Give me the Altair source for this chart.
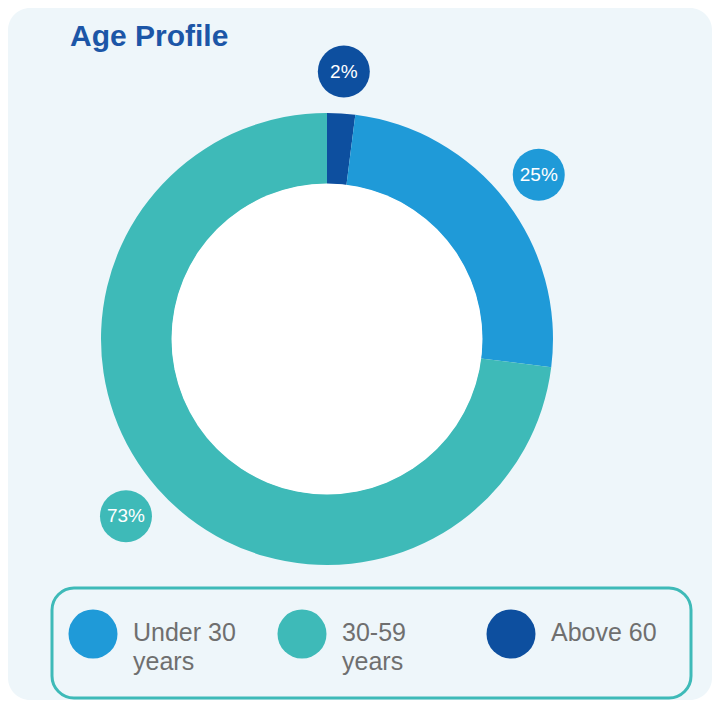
import altair as alt
import pandas as pd

# ---- data ----
categories = ["Above 60", "Under 30", "30-59"]
shares = [2, 25, 73]
slice_order = [0, 1, 2]
colors = ["#0d4f9f", "#1f9ad8", "#3ebab8"]

legend_categories = ["Under 30", "30-59", "Above 60"]
legend_labels = ["Under 30\nyears", "30-59\nyears", "Above 60"]
legend_order = [0, 1, 2]

title_text = "Age Profile"

# ---- layout ----
W, H = 704, 692
CX, CY = 319, 331
R_OUT, R_IN = 226, 155
R_LABEL = 268
PANEL = "#eef6fa"
FONT = "Liberation Sans"

df = pd.DataFrame({"category": categories, "share": shares, "order": slice_order})
leg = pd.DataFrame({"category": legend_categories, "label": legend_labels, "idx": legend_order})

color_scale = alt.Scale(domain=categories, range=colors)
color_enc = alt.Color("category:N", scale=color_scale, legend=None)

box = alt.Chart(pd.DataFrame({"b": [0]})).mark_rect(
    fill=PANEL, stroke="#3ebab8", strokeWidth=3, cornerRadius=22
).encode(x=alt.value(44), x2=alt.value(683), y=alt.value(580), y2=alt.value(690))

donut = alt.Chart(df).mark_arc(outerRadius=R_OUT, innerRadius=R_IN).encode(
    theta=alt.Theta("share:Q", stack=True),
    order=alt.Order("order:Q"),
    color=color_enc,
    x=alt.value(CX),
    y=alt.value(CY),
)

# Vega circle symbol: radius = sqrt(size) / 2
hole = alt.Chart(pd.DataFrame({"h": [0]})).mark_circle(
    size=(2 * R_IN + 1) ** 2, color="white", opacity=1
).encode(x=alt.value(CX), y=alt.value(CY))

bub_base = alt.Chart(df).transform_window(
    cum="sum(share)", sort=[alt.SortField("order")]
).transform_joinaggregate(total="sum(share)").transform_calculate(
    mid="(datum.cum - datum.share/2)/datum.total*2*PI"
).transform_calculate(
    bx=f"{CX} + {R_LABEL}*sin(datum.mid)",
    by=f"{CY} - {R_LABEL}*cos(datum.mid)",
    lbl="datum.share + '%'",
)
xs = alt.Scale(domain=[0, W], range=[0, W], nice=False, zero=False)
ys = alt.Scale(domain=[0, H], range=[0, H], nice=False, zero=False)
bx = alt.X("bx:Q", scale=xs, axis=None)
by = alt.Y("by:Q", scale=ys, axis=None)

bubbles = bub_base.mark_circle(size=52 ** 2, opacity=1).encode(x=bx, y=by, color=color_enc)
bubble_text = bub_base.mark_text(
    color="white", fontSize=19, font=FONT, baseline="middle", align="center"
).encode(x=bx, y=by, text="lbl:N")

leg_x = alt.X("idx:Q", scale=alt.Scale(domain=[0, 2], range=[85, 503], nice=False, zero=False), axis=None)
leg_dots = alt.Chart(leg).mark_circle(size=49 ** 2, opacity=1).encode(
    x=leg_x, y=alt.value(626), color=color_enc
)
leg_text = alt.Chart(leg).mark_text(
    align="left", baseline="alphabetic", dx=40, fontSize=25, lineHeight=29,
    color="#6f6f6f", font=FONT, lineBreak="\n"
).encode(x=leg_x, y=alt.value(633), text="label:N")

title = alt.Chart(pd.DataFrame({"t": [title_text]})).mark_text(
    align="left", baseline="alphabetic", fontSize=30, fontWeight="bold",
    color="#1c56a7", font=FONT
).encode(x=alt.value(62), y=alt.value(38), text="t:N")

chart = alt.layer(
    box, donut, hole, bubbles, bubble_text, leg_dots, leg_text, title
).resolve_scale(x="independent", y="independent").properties(
    width=W, height=H, autosize=alt.AutoSizeParams(type="none"), padding=0,
    background="white"
).configure_view(fill=PANEL, stroke=None, cornerRadius=22)

chart.save("out.html", embed_options={"renderer": "svg", "actions": False})
